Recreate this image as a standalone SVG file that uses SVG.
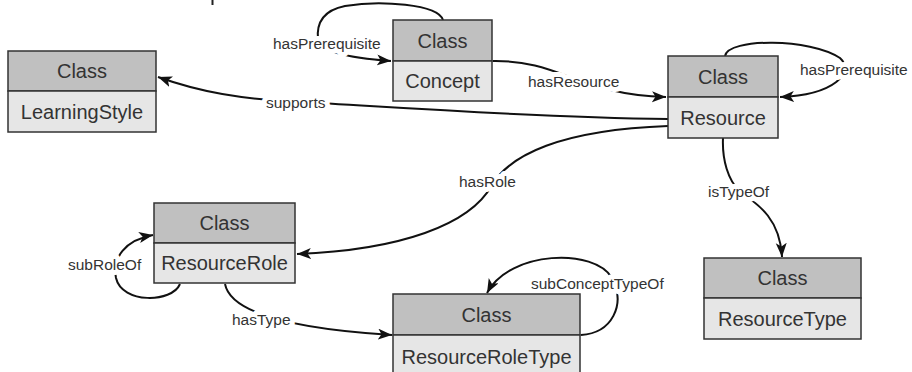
<svg xmlns="http://www.w3.org/2000/svg" width="912" height="372" viewBox="0 0 912 372">
<style>
.hdr{fill:#c0c0c0;stroke:#333;stroke-width:1.5}
.bdy{fill:#e6e6e6;stroke:#333;stroke-width:1.5}
.ct{font-family:"Liberation Sans",Arial,sans-serif;font-size:20px;fill:#333;text-anchor:middle}
.lbl{font-family:"Liberation Sans",Arial,sans-serif;font-size:15.5px;fill:#333;stroke:#fff;stroke-width:10;stroke-linejoin:round;paint-order:stroke}
.edge{fill:none;stroke:#111;stroke-width:2}
.arr{marker-end:url(#ah)}
</style>
<defs>
<marker id="ah" markerUnits="userSpaceOnUse" markerWidth="15" markerHeight="12" refX="14" refY="5.5" orient="auto">
<path d="M0,0 L14,5.5 L0,11 L3.5,5.5 z" fill="#111"/>
</marker>
</defs>
<rect x="211.5" y="0" width="2" height="5" fill="#222"/>
<g id="connectors">
<path class="edge arr" d="M668,119 C520,117 380,106 300,102 C240,99 200,92 158,77"/>
<path class="edge arr" d="M443,20 C438,4 380,0 345,6 C325,10 316,22 318,40 C320,52 350,58 391,61"/>
<path class="edge arr" d="M493,61 C560,60 580,95 666,97"/>
<path class="edge arr" d="M725,56 C728,38 810,38 840,58 C855,72 835,95 780,97"/>
<path class="edge arr" d="M668,126 C560,130 510,155 492,185 C470,225 400,250 297,254"/>
<path class="edge arr" d="M723,138 C722,160 728,180 740,192 C760,205 780,220 782,257"/>
<path class="edge arr" d="M180,284 C172,303 122,304 116,278 C112,258 125,240 153,235"/>
<path class="edge arr" d="M225,284 C230,310 280,328 392,335"/>
<path class="edge arr" d="M581,335 C612,333 626,305 612,278 C595,248 510,250 487,293"/>
<text class="lbl" x="266" y="108">supports</text>
<text class="lbl" x="273" y="49">hasPrerequisite</text>
<text class="lbl" x="528" y="87">hasResource</text>
<text class="lbl" x="800" y="75">hasPrerequisite</text>
<text class="lbl" x="459" y="187">hasRole</text>
<text class="lbl" x="708" y="197">isTypeOf</text>
<text class="lbl" x="68" y="270">subRoleOf</text>
<text class="lbl" x="232" y="325">hasType</text>
<text class="lbl" x="531" y="289">subConceptTypeOf</text>
</g>
<g id="LearningStyle">
<rect class="hdr" x="8" y="51" width="148" height="40"/>
<rect class="bdy" x="8" y="91" width="148" height="41"/>
<text class="ct" x="82" y="78">Class</text>
<text class="ct" x="82" y="119">LearningStyle</text>
</g>
<g id="Concept">
<rect class="hdr" x="393" y="20" width="99" height="41"/>
<rect class="bdy" x="393" y="61" width="99" height="40"/>
<text class="ct" x="442.5" y="47.5">Class</text>
<text class="ct" x="442.5" y="88">Concept</text>
</g>
<g id="Resource">
<rect class="hdr" x="668" y="56" width="110" height="41"/>
<rect class="bdy" x="668" y="97" width="110" height="41"/>
<text class="ct" x="723" y="83.5">Class</text>
<text class="ct" x="723" y="124.5">Resource</text>
</g>
<g id="ResourceRole">
<rect class="hdr" x="154" y="203" width="141" height="40"/>
<rect class="bdy" x="154" y="243" width="141" height="40"/>
<text class="ct" x="224.5" y="230">Class</text>
<text class="ct" x="224.5" y="270">ResourceRole</text>
</g>
<g id="ResourceRoleType">
<rect class="hdr" x="393" y="294" width="187" height="41"/>
<rect class="bdy" x="393" y="335" width="187" height="42"/>
<text class="ct" x="486.5" y="321.5">Class</text>
<text class="ct" x="486.5" y="363.5">ResourceRoleType</text>
</g>
<g id="ResourceType">
<rect class="hdr" x="704" y="258" width="157" height="40"/>
<rect class="bdy" x="704" y="298" width="157" height="41"/>
<text class="ct" x="782.5" y="285">Class</text>
<text class="ct" x="782.5" y="325.5">ResourceType</text>
</g>
</svg>
